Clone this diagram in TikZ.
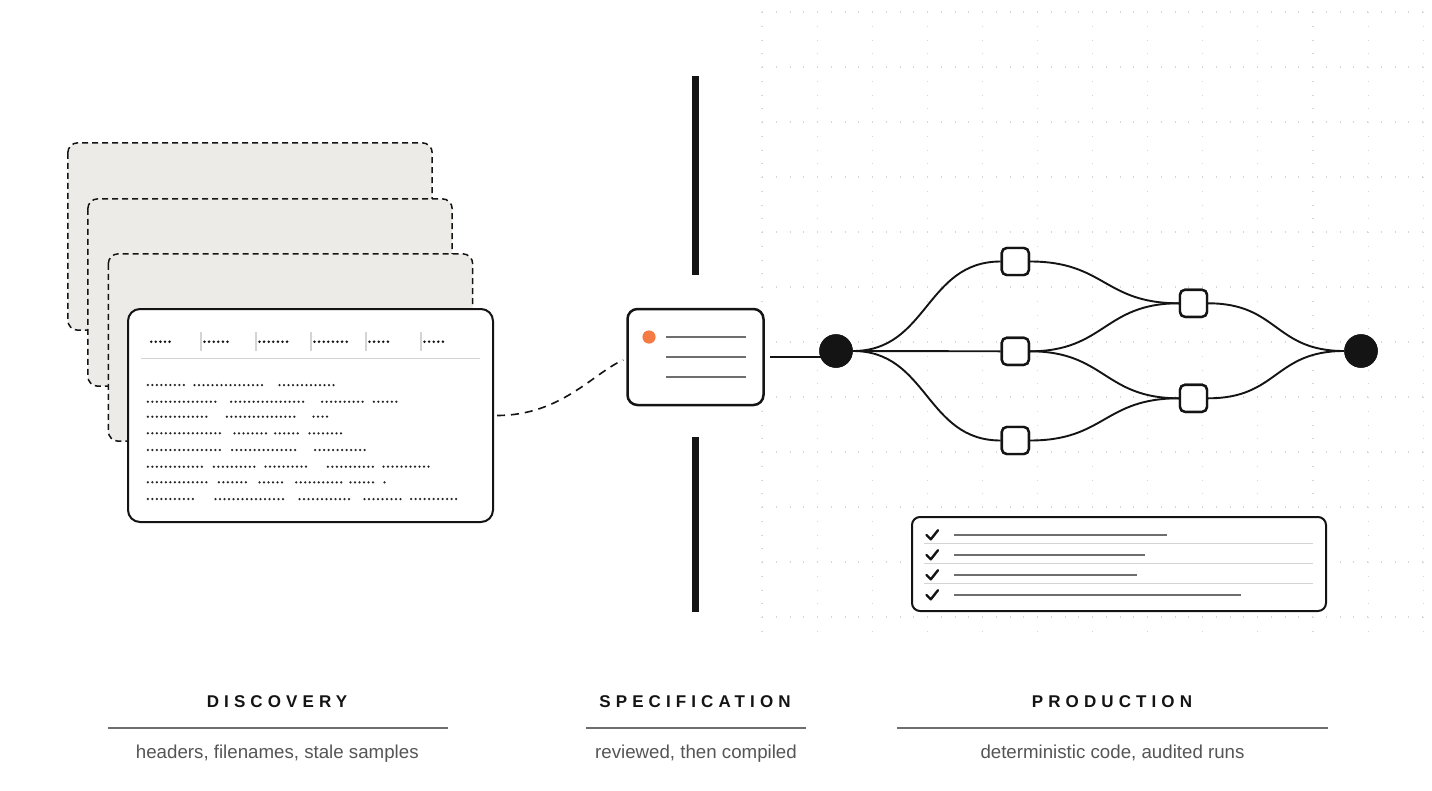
\documentclass[tikz,border=0pt]{standalone}
\usepackage{fontspec}
\setmainfont{Liberation Sans}
\newfontfamily\titlefont{Liberation Sans}[LetterSpace=30]
\usetikzlibrary{calc}
\definecolor{ink}{HTML}{141414}
\definecolor{cardfill}{HTML}{ECEBE7}
\definecolor{midgray}{HTML}{6E6E6E}
\definecolor{rulegray}{HTML}{D4D4D4}
\definecolor{accent}{HTML}{F47B43}
\definecolor{subgray}{HTML}{555555}
\definecolor{gridgray}{HTML}{D6D6D6}
\definecolor{dotink}{HTML}{262626}
\tikzset{
  backcard/.style={fill=cardfill, minimum width=364pt, minimum height=187pt, inner sep=0pt, rounded corners=10pt},
  cardedge/.style={draw=ink, line width=1.5pt, dash pattern=on 6pt off 4pt, rounded corners=10pt},
  frontcard/.style={draw=ink, fill=white, line width=2pt, rounded corners=12pt,
    minimum width=365pt, minimum height=213pt, inner sep=0pt},
  speccard/.style={draw=ink, fill=white, line width=2.5pt, rounded corners=10pt,
    minimum width=136pt, minimum height=96pt, inner sep=0pt},
  checkbox/.style={draw=ink, fill=white, line width=2pt, rounded corners=8pt,
    minimum width=414pt, minimum height=94pt, inner sep=0pt},
  sq/.style={draw=ink, fill=white, line width=2.4pt, rounded corners=5pt,
    minimum size=27pt, inner sep=0pt},
  bigdot/.style={circle, fill=ink, minimum size=33.5pt, inner sep=0pt},
  edge/.style={draw=ink, line width=1.9pt},
  bar/.style={draw=ink, line width=7pt},
  griddot/.style={draw=gridgray, line width=1.1pt, dash pattern=on 1.1pt off 12.65pt},
  bodydots/.style={draw=dotink, line width=2.5pt, line cap=round, dash pattern=on 0pt off 4.5pt},
  headdots/.style={draw=ink, line width=2.8pt, line cap=round, dash pattern=on 0pt off 4.6pt},
  thinrule/.style={draw=rulegray, line width=1.2pt},
  greyline/.style={draw=midgray, line width=2.4pt},
  checkmark/.style={draw=ink, line width=2.4pt, line cap=round, line join=round},
  titletext/.style={font=\titlefont\bfseries\fontsize{17}{20}\selectfont, text=ink, anchor=base, inner sep=0pt},
  subtext/.style={font=\fontsize{18.7}{22}\selectfont, text=subgray, anchor=base, inner sep=0pt},
  labelrule/.style={draw=midgray, line width=2pt},
}
\begin{document}
\begin{tikzpicture}[x=1pt,y=-1pt]
\useasboundingbox (0,0) rectangle (1432,790);
\fill[white] (0,0) rectangle (1432,790);

% dotted grid
\foreach \i in {0,...,12} \draw[griddot] (762+55.1*\i,12) -- (762+55.1*\i,632);
\foreach \j in {0,...,11} \draw[griddot] (762,12+55*\j) -- (1424,12+55*\j);

% stacked cards
\node[backcard] (card1) at (250,236.5) {};
\draw[cardedge] (card1.north west) rectangle (card1.south east);
\node[backcard] (card2) at (270,292.5) {};
\draw[cardedge] (card2.north west) rectangle (card2.south east);
\node[backcard] (card3) at (290.5,347.5) {};
\draw[cardedge] (card3.north west) rectangle (card3.south east);
\node[frontcard] (front) at (310.5,415.5) {};

% header row
\foreach \a/\b in {150/170, 203.3/227.7, 258.3/287.3, 313.3/349, 368.3/391.7, 423.3/446.7}
  \draw[headdots] (\a+1.2,341.7) -- (\b+0.2,341.7);
\foreach \x in {201,256,311,366,421} \draw[thinrule] (\x,332) -- (\x,351);
\draw[thinrule] (141,358.5) -- (480,358.5);

% body rows
\foreach \y/\segs in {
  385/{146.7/185,193.3/264.3,278.3/337.3},
  401.7/{146.7/219,230/305.7,321/367.3,372.7/397.7},
  416.7/{146.7/210,225.7/297.7,312.3/328.3},
  433.3/{146.7/223.3,233.3/266.7,274/298.3,308.3/341.7},
  450/{146.7/223.3,231/298.3,314/369},
  466.7/{146.7/202.3,212.7/255,264.3/310.7,326.7/373.3,382.3/432.3},
  482.3/{146.7/210,217.7/247.7,258.3/284,295/342.3,349.3/374.3,383.3/385.7},
  499/{146.7/197.7,214.3/285.7,298.3/353.3,363.3/401,410/456.7}}
{
  \foreach \a/\b in \segs \draw[bodydots] (\a+1.2,\y) -- (\b-0.3,\y);
}

% vertical bars
\draw[bar] (695,76) -- (695,275);
\draw[bar] (695,437) -- (695,612);

% specification card
\node[speccard] (spec) at (695.5,357) {};
\fill[accent] (649,337) circle (6.6pt);
\foreach \y in {337,357,377} \draw[greyline] (666,\y) -- (746,\y);

% dashed connector
\draw[ink, line width=1.6pt, dash pattern=on 8pt off 6pt]
  ($(front.east)+(3,0)$) .. controls +(64,0) and +(-30,13) .. ($(spec.west)+(-3,3)$);

% graph nodes (positions)
\node[bigdot] (S) at (836,351) {};
\node[bigdot] (T) at (1361,351) {};
\node[sq] (A) at (1015.3,261.5) {};
\node[sq] (B) at (1015.3,351.3) {};
\node[sq] (C) at (1015.3,440.5) {};
\node[sq] (D) at (1193.5,303.3) {};
\node[sq] (E) at (1193.5,398.3) {};

\coordinate (sl) at ($(spec.east)+(5,0)$);
\draw[edge] (sl) -- (S.center |- sl);

\draw[edge] (S.east) .. controls +(75,0) and +(-75,0) .. (A.west);
\draw[edge] (S.east) -- (B.west);
\draw[edge] (S.east) .. controls +(75,0) and +(-75,0) .. (C.west);
\draw[edge] (A.east) .. controls +(75,0) and +(-75,0) .. (D.west);
\draw[edge] (B.east) .. controls +(75,0) and +(-75,0) .. (D.west);
\draw[edge] (B.east) .. controls +(75,0) and +(-75,0) .. (E.west);
\draw[edge] (C.east) .. controls +(75,0) and +(-75,0) .. (E.west);
\draw[edge] (D.east) .. controls +(70,0) and +(-70,0) .. (T.west);
\draw[edge] (E.east) .. controls +(70,0) and +(-70,0) .. (T.west);

% redraw nodes on top of edges
\node[bigdot] at (S) {};
\node[bigdot] at (T) {};
\foreach \n in {A,B,C,D,E} \node[sq] at (\n) {};

% checklist
\node[checkbox] (check) at (1119,564) {};
\foreach \y/\e in {535/1166.7, 555/1145, 575/1136.7, 595/1240.7} {
  \draw[checkmark] (926.5,\y) -- (930.8,\y+4.3) -- (938,\y-4.8);
  \draw[draw=midgray, line width=2.4pt] (954.3,\y) -- (\e,\y);
}
\foreach \y in {543.7,563.7,583.7} \draw[thinrule] (924.3,\y) -- (1313.3,\y);

% labels
\node[titletext] (t1) at (277,707.3) {DISCOVERY};
\node[titletext] (t2) at (695,707.3) {SPECIFICATION};
\node[titletext] (t3) at (1112,707.3) {PRODUCTION};
\draw[labelrule] (108,727.5) -- (448,727.5);
\draw[labelrule] (586,727.5) -- (806,727.5);
\draw[labelrule] (897,727.5) -- (1328,727.5);
\node[subtext] (s1) at (277.3,758) {headers, filenames, stale samples};
\node[subtext] (s2) at (696,758) {reviewed, then compiled};
\node[subtext] (s3) at (1112.5,758) {deterministic code, audited runs};
\end{tikzpicture}
\end{document}
